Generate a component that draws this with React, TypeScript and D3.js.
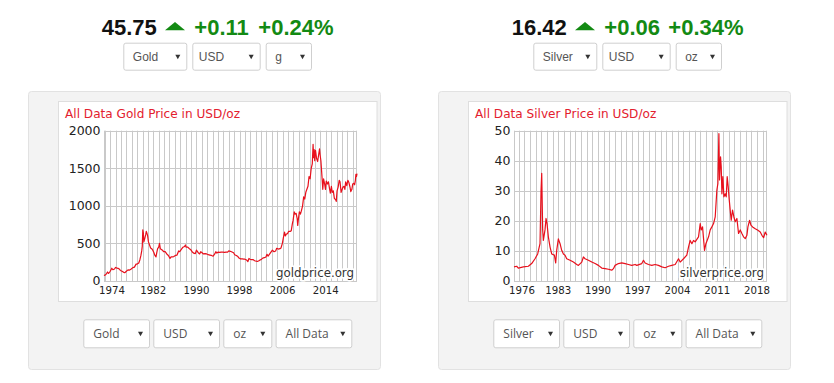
import React from "react";
import * as d3 from "d3";

// ---------- data ----------
const GOLD_SERIES: [number, number][] = [
  [1972.85, 80], [1973.0, 75], [1973.3, 95], [1973.5, 120], [1973.7, 100], [1974.0, 130], [1974.3, 170],
  [1974.5, 150], [1974.8, 160], [1975.0, 180], [1975.3, 172], [1975.6, 165], [1975.9, 140], [1976.2, 130],
  [1976.5, 115], [1976.7, 110], [1977.0, 130], [1977.3, 148], [1977.6, 145], [1977.9, 160], [1978.2, 178],
  [1978.5, 185], [1978.8, 225], [1979.0, 225], [1979.3, 240], [1979.5, 280], [1979.7, 340], [1979.85, 400],
  [1979.95, 460], [1980.05, 680], [1980.15, 640], [1980.25, 520], [1980.4, 560], [1980.6, 620], [1980.7, 660],
  [1980.8, 640], [1980.95, 600], [1981.1, 520], [1981.3, 480], [1981.5, 440], [1981.7, 430], [1981.9, 410],
  [1982.1, 380], [1982.3, 340], [1982.5, 320], [1982.65, 380], [1982.8, 430], [1983.0, 450], [1983.15, 500],
  [1983.3, 430], [1983.5, 420], [1983.7, 410], [1983.9, 390], [1984.2, 390], [1984.5, 360], [1984.8, 340],
  [1985.1, 300], [1985.3, 320], [1985.5, 320], [1985.8, 325], [1986.1, 340], [1986.4, 345], [1986.7, 400],
  [1986.9, 390], [1987.2, 420], [1987.5, 450], [1987.8, 460], [1987.95, 480], [1988.1, 450], [1988.4, 450],
  [1988.7, 430], [1988.9, 420], [1989.2, 390], [1989.5, 370], [1989.8, 365], [1990.0, 410], [1990.3, 380],
  [1990.6, 360], [1990.8, 390], [1991.0, 380], [1991.3, 360], [1991.6, 365], [1991.9, 360], [1992.2, 350],
  [1992.5, 345], [1992.8, 340], [1993.1, 330], [1993.4, 360], [1993.6, 390], [1993.8, 370], [1994.0, 385],
  [1994.3, 380], [1994.6, 385], [1994.9, 385], [1995.2, 380], [1995.5, 385], [1995.8, 385], [1996.0, 400],
  [1996.3, 395], [1996.6, 385], [1996.9, 375], [1997.1, 350], [1997.4, 340], [1997.7, 325], [1997.9, 305],
  [1998.2, 295], [1998.5, 295], [1998.8, 290], [1999.0, 290], [1999.3, 280], [1999.55, 258], [1999.75, 300],
  [1999.95, 290], [2000.2, 285], [2000.5, 285], [2000.8, 270], [2001.1, 265], [2001.3, 260], [2001.6, 270],
  [2001.8, 280], [2002.0, 285], [2002.3, 305], [2002.6, 310], [2002.9, 320], [2003.1, 355], [2003.3, 330],
  [2003.6, 360], [2003.9, 390], [2004.1, 410], [2004.4, 390], [2004.7, 400], [2004.9, 435], [2005.2, 425],
  [2005.5, 430], [2005.7, 440], [2005.95, 500], [2006.1, 560], [2006.35, 650], [2006.5, 600], [2006.7, 625],
  [2006.9, 630], [2007.1, 660], [2007.4, 660], [2007.6, 670], [2007.8, 760], [2007.95, 810], [2008.15, 920],
  [2008.3, 890], [2008.5, 900], [2008.7, 830], [2008.8, 740], [2008.9, 810], [2009.1, 920], [2009.3, 890],
  [2009.5, 940], [2009.7, 1000], [2009.9, 1120], [2010.1, 1090], [2010.3, 1180], [2010.5, 1220], [2010.7, 1260],
  [2010.9, 1390], [2011.1, 1360], [2011.3, 1500], [2011.5, 1560], [2011.65, 1820], [2011.75, 1640], [2011.85, 1750],
  [2011.95, 1600], [2012.1, 1740], [2012.3, 1630], [2012.5, 1590], [2012.7, 1690], [2012.85, 1760], [2012.95, 1680],
  [2013.1, 1600], [2013.3, 1390], [2013.45, 1220], [2013.6, 1360], [2013.8, 1290], [2013.95, 1220], [2014.1, 1330],
  [2014.3, 1290], [2014.5, 1320], [2014.7, 1230], [2014.85, 1170], [2015.05, 1260], [2015.2, 1180], [2015.4, 1200],
  [2015.6, 1100], [2015.85, 1080], [2015.95, 1060], [2016.1, 1200], [2016.3, 1250], [2016.5, 1340], [2016.65, 1320],
  [2016.85, 1180], [2017.0, 1210], [2017.2, 1250], [2017.4, 1260], [2017.55, 1220], [2017.7, 1320], [2017.9, 1270],
  [2018.1, 1340], [2018.3, 1310], [2018.5, 1250], [2018.65, 1190], [2018.85, 1220], [2019.0, 1290], [2019.2, 1300],
  [2019.35, 1280], [2019.5, 1340], [2019.6, 1420], [2019.7, 1390], [2019.8, 1430],
];

const SILVER_SERIES: [number, number][] = [
  [1975.2, 4.7], [1975.67, 4.9], [1975.96, 4.3], [1976.85, 4.7], [1977.73, 4.9], [1978.31, 5.8], [1978.9, 7.4],
  [1979.37, 9.0], [1979.78, 12.4], [1979.96, 30.0], [1980.08, 35.8], [1980.25, 17.0], [1980.37, 13.5], [1980.66, 17.0],
  [1980.84, 20.8], [1981.02, 19.0], [1981.25, 14.7], [1981.55, 11.3], [1981.84, 9.0], [1982.31, 8.6], [1982.54, 6.0],
  [1982.72, 10.2], [1983.01, 14.0], [1983.31, 12.4], [1983.6, 10.2], [1983.9, 9.0], [1984.19, 8.6], [1984.48, 7.4],
  [1985.07, 6.9], [1985.66, 6.3], [1986.25, 5.5], [1986.54, 5.2], [1987.13, 6.3], [1987.42, 8.0], [1987.71, 7.4],
  [1988.3, 6.9], [1988.89, 6.3], [1989.48, 5.8], [1990.06, 5.2], [1990.65, 4.3], [1991.24, 4.1], [1991.83, 3.9],
  [1992.41, 3.6], [1992.71, 4.1], [1993.0, 5.2], [1993.59, 5.8], [1994.18, 6.0], [1994.77, 5.8], [1995.35, 5.5],
  [1995.94, 5.2], [1996.53, 5.5], [1996.82, 5.2], [1997.7, 5.8], [1998.0, 6.9], [1998.29, 6.0], [1998.88, 5.5],
  [1999.47, 5.2], [2000.05, 5.5], [2000.64, 5.2], [2001.23, 4.7], [2001.82, 4.4], [2002.4, 4.9], [2002.99, 5.2],
  [2003.58, 5.5], [2004.17, 7.4], [2004.46, 6.3], [2005.05, 7.4], [2005.63, 8.6], [2005.93, 11.3], [2006.22, 13.5],
  [2006.52, 12.4], [2006.81, 13.5], [2007.1, 13.0], [2007.69, 14.7], [2007.99, 19.1], [2008.16, 17.0], [2008.4, 18.0],
  [2008.75, 10.2], [2008.99, 12.4], [2009.46, 14.7], [2009.75, 17.0], [2010.04, 18.0], [2010.34, 19.1], [2010.63, 21.3],
  [2010.92, 30.2], [2011.1, 32.4], [2011.28, 49.0], [2011.39, 33.6], [2011.57, 41.3], [2011.69, 38.0], [2011.81, 29.0],
  [2011.98, 34.7], [2012.16, 28.0], [2012.39, 29.0], [2012.57, 28.0], [2012.74, 34.7], [2012.92, 31.3], [2013.1, 27.0],
  [2013.33, 22.4], [2013.45, 20.2], [2013.68, 23.6], [2013.92, 21.3], [2014.15, 19.7], [2014.45, 20.8], [2014.74, 15.8],
  [2015.04, 17.0], [2015.33, 15.8], [2015.62, 14.7], [2015.92, 14.1], [2016.21, 15.2], [2016.39, 18.0], [2016.68, 20.2],
  [2016.92, 18.6], [2017.21, 18.0], [2017.68, 17.4], [2018.15, 16.9], [2018.56, 16.3], [2018.86, 15.2], [2019.15, 14.4],
  [2019.44, 16.3], [2019.74, 15.2],
];

const GOLD_Y_TICKS = [0, 500, 1000, 1500, 2000];
const SILVER_Y_TICKS = [0, 10, 20, 30, 40, 50];
const GOLD_X_TICKS = [1974, 1982, 1990, 1998, 2006, 2014];
const SILVER_X_TICKS = [1976, 1983, 1990, 1997, 2004, 2011, 2018];

const GOLD_HEAD = ["45.75", "+0.11", "+0.24%"];
const SILVER_HEAD = ["16.42", "+0.06", "+0.34%"];
const GOLD_TOP_SELECTS = ["Gold", "USD", "g"];
const SILVER_TOP_SELECTS = ["Silver", "USD", "oz"];
const GOLD_BOTTOM_SELECTS = ["Gold", "USD", "oz", "All Data"];
const SILVER_BOTTOM_SELECTS = ["Silver", "USD", "oz", "All Data"];

// ---------- styling ----------
const RED = "#e8101c";
const TITLE_RED = "#e3202e";
const GREEN = "#138a13";
const GRID = "#c9c9c9";
const AXIS_FONT = "'DejaVu Sans', Verdana, sans-serif";

type ChartCfg = {
  title: string;
  series: [number, number][];
  domainX: [number, number];
  yTicks: number[];
  xTicks: number[];
  watermark: string;
  head: string[];
  topSelects: string[];
  bottomSelects: string[];
};

function Select({ x, y, w, h, label, font, pad }: { x: number; y: number; w: number; h: number; label: string; font: string; pad: number }) {
  const cx = x + w - 9.5;
  const cy = y + h / 2;
  return (
    <g>
      <rect x={x + 0.5} y={y + 0.5} width={w - 1} height={h - 1} rx={2} fill="#fff" stroke="#cfcfcf" />
      <text x={x + pad} y={cy + 4.5} fontFamily={font} fontSize={12} fill="#555">{label}</text>
      <path d={`M${cx - 2.5},${cy - 2} L${cx + 2.5},${cy - 2} L${cx},${cy + 2.5} Z`} fill="#333" />
    </g>
  );
}

function Panel({ ox, cfg }: { ox: number; cfg: ChartCfg }) {
  const left = 104 + ox, right = 357 + ox, top = 130.7, bottom = 281;
  const x = d3.scaleLinear().domain(cfg.domainX).range([left, right]);
  const yMax = cfg.yTicks[cfg.yTicks.length - 1];
  const y = d3.scaleLinear().domain([0, yMax]).range([bottom, top]);
  const line = d3.line<[number, number]>().x((d) => x(d[0])).y((d) => y(d[1]));
  const years = d3.range(Math.ceil(cfg.domainX[0]), Math.floor(cfg.domainX[1]) + 1);

  const hx = 101.7 + ox;
  const topW = [64, 68.4, 46.3];
  const topGap = 5;
  const botW = [66.7, 66.7, 49, 76.7];
  const botGap = 3.3;
  let tx = 123.3 + ox;
  let bx = 83.3 + ox;

  return (
    <g>
      {/* headline */}
      <text x={hx} y={35} fontFamily="'Liberation Sans', Arial, sans-serif" fontWeight="bold" fontSize={22} fill="#111">{cfg.head[0]}</text>
      <path d={`M${hx + 63.3},${30.3} L${hx + 83.3},${30.3} L${hx + 73.3},${22} Z`} fill={GREEN} />
      <text x={hx + 92.6} y={35} fontFamily="'Liberation Sans', Arial, sans-serif" fontWeight="bold" fontSize={22} fill={GREEN}>{cfg.head[1]}</text>
      <text x={hx + 156.6} y={35} fontFamily="'Liberation Sans', Arial, sans-serif" fontWeight="bold" fontSize={22} fill={GREEN}>{cfg.head[2]}</text>

      {cfg.topSelects.map((s, i) => {
        const el = <Select key={"t" + i} x={tx} y={42.7} w={topW[i]} h={28} label={s} font="'Liberation Sans', Arial, sans-serif" pad={i === 1 ? 6.5 : 9.5} />;
        tx += topW[i] + topGap;
        return el;
      })}

      {/* outer panel */}
      <rect x={28.5 + ox} y={91.5} width={352} height={278} rx={3} fill="#f3f3f3" stroke="#e2e2e2" />
      {/* inner white box */}
      <rect x={58.5 + ox} y={101.5} width={318.5} height={200} fill="#fff" stroke="#dedede" />

      <text x={65 + ox} y={117.5} fontFamily={AXIS_FONT} fontSize={12.1} fill={TITLE_RED}>{cfg.title}</text>

      {/* grid */}
      {years.map((yr) => (
        <line key={"v" + yr} x1={Math.round(x(yr)) + 0.5} x2={Math.round(x(yr)) + 0.5} y1={top} y2={bottom} stroke={GRID} strokeWidth={1} />
      ))}
      <line x1={left + 0.5} x2={left + 0.5} y1={top} y2={bottom} stroke={GRID} />
      <line x1={right - 0.5} x2={right - 0.5} y1={top} y2={bottom} stroke={GRID} />
      {cfg.yTicks.map((t) => (
        <line key={"h" + t} x1={left} x2={right} y1={Math.round(y(t)) + 0.5} y2={Math.round(y(t)) + 0.5} stroke={GRID} strokeWidth={1} />
      ))}

      {/* watermark */}
      <text x={right - 3} y={277} textAnchor="end" fontFamily={AXIS_FONT} fontSize={11.8} fill="#333" stroke="#fff" strokeWidth={3} paintOrder="stroke">{cfg.watermark}</text>

      {/* series */}
      <path d={line(cfg.series) || ""} fill="none" stroke={RED} strokeWidth={1.2} strokeLinejoin="round" />

      {/* y labels */}
      {cfg.yTicks.map((t) => (
        <text key={"yl" + t} x={left - 3.5} y={y(t) + 4.3} textAnchor="end" fontFamily={AXIS_FONT} fontSize={12.5} fill="#222">{t}</text>
      ))}
      {/* x labels */}
      {cfg.xTicks.map((t) => (
        <text key={"xl" + t} x={Math.max(x(t), left + 8)} y={294} textAnchor="middle" fontFamily={AXIS_FONT} fontSize={10.2} fill="#222">{t}</text>
      ))}

      {cfg.bottomSelects.map((s, i) => {
        const el = <Select key={"b" + i} x={bx} y={319.3} w={botW[i]} h={29} label={s} font="'Open Sans', sans-serif" pad={10} />;
        bx += botW[i] + botGap;
        return el;
      })}
    </g>
  );
}

export default function App() {
  const gold: ChartCfg = {
    title: "All Data Gold Price in USD/oz",
    series: GOLD_SERIES,
    domainX: [1972.85, 2019.8],
    yTicks: GOLD_Y_TICKS,
    xTicks: GOLD_X_TICKS,
    watermark: "goldprice.org",
    head: GOLD_HEAD,
    topSelects: GOLD_TOP_SELECTS,
    bottomSelects: GOLD_BOTTOM_SELECTS,
  };
  const silver: ChartCfg = {
    title: "All Data Silver Price in USD/oz",
    series: SILVER_SERIES,
    domainX: [1975.2, 2019.75],
    yTicks: SILVER_Y_TICKS,
    xTicks: SILVER_X_TICKS,
    watermark: "silverprice.org",
    head: SILVER_HEAD,
    topSelects: SILVER_TOP_SELECTS,
    bottomSelects: SILVER_BOTTOM_SELECTS,
  };
  return (
    <div style={{ position: "absolute", left: 0, top: 0 }}>
      <svg width={834} height={383} style={{ display: "block", background: "#fff" }}>
        <Panel ox={0} cfg={gold} />
        <Panel ox={410} cfg={silver} />
      </svg>
    </div>
  );
}
